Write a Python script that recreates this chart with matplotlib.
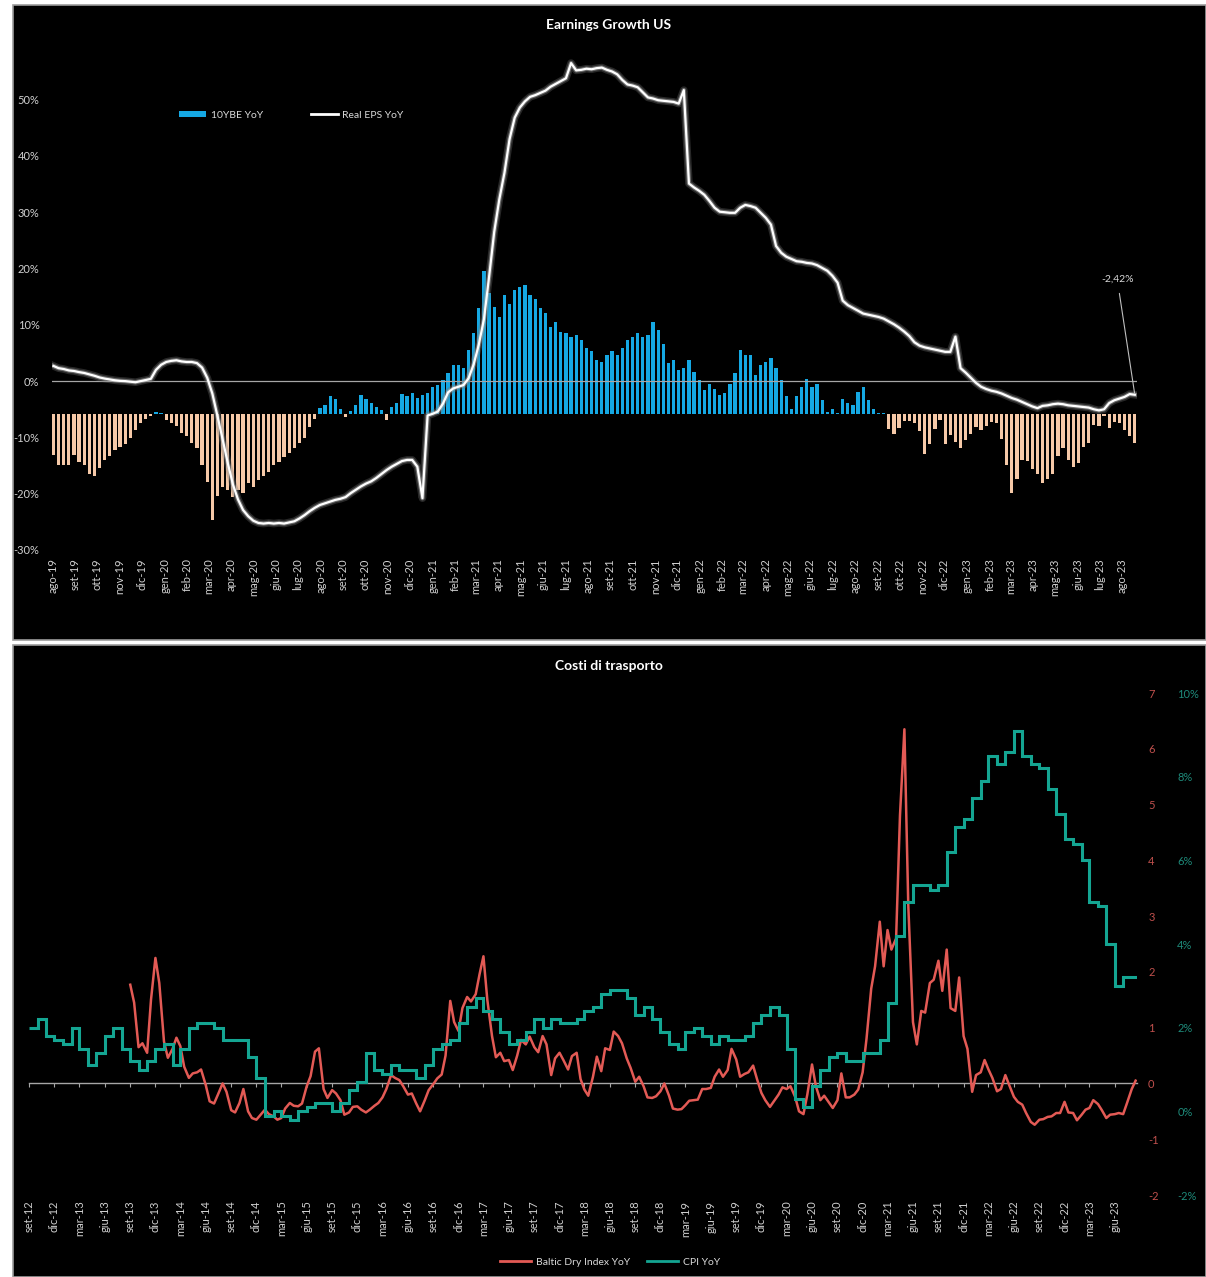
import matplotlib
matplotlib.use('Agg')
import matplotlib.pyplot as plt
import matplotlib.dates as mdates
import matplotlib.patheffects as pe
from matplotlib.patches import Rectangle, Patch
from matplotlib.lines import Line2D
import pandas as pd

plt.rcParams['font.family'] = ['Lato', 'DejaVu Sans']
plt.rcParams['axes.unicode_minus'] = False

MESI = ['gen', 'feb', 'mar', 'apr', 'mag', 'giu', 'lug', 'ago', 'set', 'ott', 'nov', 'dic']

# --- Earnings Growth US (weekly) ---
eps_start = '2019-08-02'
real_eps_yoy = [
    2.7, 2.3, 2.15, 1.9, 1.8, 1.6, 1.45, 1.2, 0.95, 0.65,
    0.45, 0.3, 0.15, 0.05, 0.0, -0.1, -0.2, 0.0, 0.2, 0.4,
    2.0, 2.9, 3.4, 3.6, 3.7, 3.5, 3.4, 3.4, 3.2, 2.4,
    0.6, -2.2, -6.2, -10.3, -14.5, -18.3, -21.0, -22.9, -24.0, -24.8,
    -25.2, -25.3, -25.2, -25.3, -25.2, -25.3, -25.1, -24.9, -24.4, -23.8,
    -23.1, -22.5, -22.0, -21.7, -21.4, -21.1, -20.9, -20.6, -19.9, -19.3,
    -18.7, -18.2, -17.8, -17.2, -16.5, -15.8, -15.2, -14.7, -14.2, -14.0,
    -14.0, -15.2, -20.8, -6.1, -5.8, -5.4, -4.0, -2.0, -1.3, -1.0,
    -0.7, 0.5, 3.0, 6.5, 11.0, 18.5, 26.5, 32.3, 37.0, 43.0,
    46.8, 48.6, 49.7, 50.5, 50.8, 51.2, 51.6, 52.3, 52.8, 53.3,
    53.8, 56.5, 55.2, 55.3, 55.5, 55.4, 55.6, 55.7, 55.3, 55.0,
    54.5, 53.5, 52.7, 52.5, 52.2, 51.3, 50.4, 50.2, 49.9, 49.8,
    49.7, 49.6, 49.3, 51.7, 35.1, 34.4, 33.8, 33.1, 32.0, 30.8,
    30.1, 30.0, 29.9, 29.9, 30.8, 31.3, 31.1, 30.8, 29.9, 29.0,
    27.8, 24.0, 22.8, 22.1, 21.7, 21.3, 21.2, 21.0, 20.9, 20.6,
    20.1, 19.6, 18.7, 17.5, 14.3, 13.5, 13.0, 12.5, 12.0, 11.8,
    11.6, 11.4, 11.1, 10.6, 10.1, 9.5, 8.8, 8.0, 6.9, 6.3,
    6.0, 5.8, 5.6, 5.4, 5.2, 5.2, 7.9, 2.3, 1.5, 0.6,
    -0.3, -1.0, -1.4, -1.7, -1.9, -2.2, -2.6, -3.0, -3.3, -3.7,
    -4.1, -4.5, -4.8, -4.4, -4.3, -4.1, -4.0, -4.1, -4.3, -4.4,
    -4.5, -4.6, -4.7, -5.0, -5.2, -5.0, -3.9, -3.4, -3.1, -2.8,
    -2.3, -2.42,
]
be10y_yoy = [
    -7.2, -9.0, -9.0, -9.0, -7.2, -8.5, -9.0, -10.5, -10.9, -9.5,
    -8.0, -7.3, -6.3, -5.8, -5.2, -4.2, -2.8, -1.6, -0.8, -0.2,
    0.5, 0.2, -0.9, -1.5, -2.1, -3.3, -3.9, -5.0, -5.9, -9.0,
    -12.0, -18.7, -14.5, -12.8, -13.5, -14.6, -13.4, -14.0, -12.2, -12.8,
    -11.6, -11.0, -10.2, -9.0, -8.4, -7.5, -6.9, -6.0, -5.1, -4.2,
    -2.2, -0.8, 1.2, 1.7, 3.3, 2.8, 1.0, -0.4, 0.6, 1.6,
    3.4, 2.8, 2.0, 1.3, 0.8, -1.0, 1.4, 2.0, 3.6, 3.3,
    3.8, 2.9, 3.5, 3.8, 4.9, 5.2, 6.1, 7.3, 8.8, 8.8,
    8.2, 11.4, 14.4, 19.0, 25.4, 21.5, 19.1, 17.4, 21.2, 19.7,
    22.1, 22.7, 23.0, 21.2, 20.6, 18.9, 18.0, 15.6, 16.5, 14.7,
    14.4, 13.8, 14.1, 13.2, 11.8, 11.2, 9.7, 9.4, 10.6, 11.2,
    10.6, 11.8, 13.2, 13.8, 14.4, 13.8, 14.1, 16.5, 15.0, 12.6,
    9.1, 9.7, 7.9, 8.2, 9.7, 7.6, 6.1, 4.4, 5.5, 4.6,
    3.5, 3.8, 5.5, 7.3, 11.4, 10.6, 10.6, 7.0, 8.8, 9.4,
    10.0, 8.2, 6.1, 3.2,
    1.0, 3.2, 4.8, 6.3, 4.9, 5.5, 2.5, 0.4, 1.0, 0.3,
    2.8, 2.1, 1.6, 4.0, 4.8, 2.5, 1.0, 0.3, 0.3, -2.5,
    -3.5, -2.4, -1.2, -1.1, -1.5, -3.0, -7.0, -5.2, -2.6, -1.0,
    -5.3, -3.6, -4.8, -6.0, -4.6, -3.4, -2.2, -2.8, -2.0, -1.3,
    -1.5, -4.4, -9.0, -14.0, -11.5, -8.1, -8.3, -9.6, -10.6, -12.2,
    -11.5, -10.5, -7.4, -6.0, -8.0, -9.3, -8.7, -5.8, -5.1, -1.8,
    -2.1, -0.3, -2.4, -1.4, -1.5, -2.7, -3.8, -5.0,
]

# --- Costi di trasporto ---
bdi_start = '2013-09-01'   # semi-monthly
bdi_yoy = [
    1.77, 1.45, 0.65, 0.72, 0.55, 1.5, 2.25, 1.8, 0.75, 0.46,
    0.62, 0.82, 0.67, 0.3, 0.1, 0.18, 0.2, 0.25, -0.03, -0.32,
    -0.36, -0.2, 0.0, -0.15, -0.48, -0.52, -0.35, -0.1, -0.5, -0.62,
    -0.65, -0.57, -0.47, -0.55, -0.59, -0.65, -0.62, -0.45, -0.35, -0.4,
    -0.41, -0.36, -0.05, 0.13, 0.57, 0.63, -0.1, -0.26, -0.12, -0.18,
    -0.3, -0.56, -0.52, -0.42, -0.41, -0.47, -0.52, -0.47, -0.4, -0.35,
    -0.25, -0.1, 0.15, 0.1, 0.06, -0.05, -0.2, -0.18, -0.36, -0.5,
    -0.3, -0.12, -0.01, 0.09, 0.16, 0.5, 1.48, 1.1, 0.94, 1.35,
    1.55, 1.47, 1.6, 1.96, 2.28, 1.5, 0.85, 0.47, 0.55, 0.4,
    0.42, 0.24, 0.5, 0.78, 0.7, 0.84, 0.65, 0.56, 0.85, 0.7,
    0.15, 0.45, 0.55, 0.42, 0.25, 0.49, 0.55, 0.08, -0.11, -0.22,
    0.12, 0.48, 0.22, 0.63, 0.6, 0.93, 0.85, 0.72, 0.45, 0.28,
    0.03, 0.12, -0.05, -0.25, -0.26, -0.23, -0.14, 0.0, -0.22, -0.45,
    -0.47, -0.46, -0.39, -0.31, -0.3, -0.29, -0.1, -0.1, -0.08, 0.12,
    0.25, 0.12, 0.24, 0.62, 0.43, 0.12, 0.17, 0.2, 0.32, 0.08,
    -0.17, -0.3, -0.42, -0.32, -0.2, -0.07, -0.1, -0.05, -0.24, -0.5,
    -0.55, -0.2, 0.34, -0.05, -0.3, -0.22, -0.34, -0.44, -0.3, 0.18,
    -0.25, -0.25, -0.2, -0.11, 0.2, 0.8, 1.7, 2.1, 2.9, 2.1,
    2.75, 2.4, 2.6, 4.8, 6.35, 3.2, 1.1, 0.7, 1.3, 1.27,
    1.8, 1.86, 2.2, 1.66, 2.4, 1.35, 1.3, 1.9, 0.85, 0.62,
    -0.15, 0.15, 0.2, 0.42, 0.25, 0.1, -0.14, -0.1, 0.15, -0.03,
    -0.24, -0.33, -0.38, -0.53, -0.69, -0.74, -0.65, -0.64, -0.6, -0.59,
    -0.53, -0.53, -0.33, -0.52, -0.53, -0.66, -0.56, -0.47, -0.44, -0.3,
    -0.37, -0.48, -0.62, -0.56, -0.55, -0.53, -0.55, -0.35, -0.1, 0.05,
]
cpi_start = '2012-09-01'   # monthly, %
cpi_end = '2023-08-20'
cpi_yoy = [
    2.0, 2.2, 1.8, 1.7,
    1.6, 2.0, 1.5, 1.1, 1.4, 1.8, 2.0, 1.5, 1.2, 1.0, 1.2, 1.5,
    1.6, 1.1, 1.5, 2.0, 2.1, 2.1, 2.0, 1.7, 1.7, 1.7, 1.3, 0.8,
    -0.1, 0.0, -0.1, -0.2, 0.0, 0.1, 0.2, 0.2, 0.0, 0.2, 0.5, 0.7,
    1.4, 1.0, 0.9, 1.1, 1.0, 1.0, 0.8, 1.1, 1.5, 1.6, 1.7, 2.1,
    2.5, 2.7, 2.4, 2.2, 1.9, 1.6, 1.7, 1.9, 2.2, 2.0, 2.2, 2.1,
    2.1, 2.2, 2.4, 2.5, 2.8, 2.9, 2.9, 2.7, 2.3, 2.5, 2.2, 1.9,
    1.6, 1.5, 1.9, 2.0, 1.8, 1.6, 1.8, 1.7, 1.7, 1.8, 2.1, 2.3,
    2.5, 2.3, 1.5, 0.3, 0.1, 0.6, 1.0, 1.3, 1.4, 1.2, 1.2, 1.4,
    1.4, 1.7, 2.6, 4.2, 5.0, 5.4, 5.4, 5.3, 5.4, 6.2, 6.8, 7.0,
    7.5, 7.9, 8.5, 8.3, 8.6, 9.1, 8.5, 8.3, 8.2, 7.7, 7.1, 6.5,
    6.4, 6.0, 5.0, 4.9, 4.0, 3.0, 3.2,
]

BLUE = '#15A8E3'
PEACH = '#F6C9A8'
RED = '#E35A55'
TEAL = '#14A592'
LBL = '#d0d0d0'

W, H = 1206, 1277
fig = plt.figure(figsize=(W / 100, H / 100), dpi=100, facecolor='white')

# pannelli neri
for y0, h in [(5, 635), (645, 632)]:
    fig.add_artist(Rectangle((13 / W, 1 - (y0 + h) / H), (W - 13) / W, h / H,
                             transform=fig.transFigure, facecolor='black',
                             edgecolor='#9c9c9c', lw=1.2, zorder=-1))


def it_label(d):
    return f'{MESI[d.month - 1]}-{d.strftime("%y")}'


# ---------------- grafico 1 ----------------
ax1 = fig.add_axes([52 / W, 1 - 550 / H, 1085 / W, 501 / H])
ax1b = ax1.twinx()
ax1.set_zorder(2)
ax1b.set_zorder(1)
for a in (ax1, ax1b):
    a.patch.set_visible(False)
    for s in a.spines.values():
        s.set_visible(False)

dates1 = pd.date_range(eps_start, periods=len(real_eps_yoy), freq='7D')
bar_cols = [BLUE if v >= 0 else PEACH for v in be10y_yoy]
ax1b.bar(dates1, be10y_yoy, width=4.4, color=bar_cols, linewidth=0)
ax1b.set_ylim(-24.07, 64.92)
ax1b.set_yticks([])

ax1.axhline(0, color='#a6a6a6', lw=0.9, zorder=1)
ax1.plot(dates1, real_eps_yoy, color='white', lw=1.6, zorder=3,
         path_effects=[pe.Stroke(linewidth=5.5, foreground='#707070', alpha=0.35),
                       pe.Stroke(linewidth=3.2, foreground='#b0b0b0', alpha=0.5),
                       pe.Normal()])
ax1.set_ylim(-30, 59)
yt = list(range(-30, 51, 10))
ax1.set_yticks(yt)
ax1.set_yticklabels([f'{t}%' for t in yt])
ax1.set_xlim(pd.Timestamp('2019-07-31'), pd.Timestamp('2023-08-21'))
months = pd.date_range('2019-08-01', '2023-08-01', freq='MS')
ax1.set_xticks(months)
ax1.set_xticklabels([it_label(d) for d in months], rotation=90)
ax1.tick_params(axis='both', length=0, colors=LBL, labelsize=8)
ax1.tick_params(axis='x', pad=6)
ax1.tick_params(axis='y', pad=9)

last = real_eps_yoy[-1]
ax1.annotate(f'{last:.2f}%'.replace('.', ','), xy=(dates1[-1], last),
             xytext=(pd.Timestamp('2023-07-25'), 18.1), ha='center', va='center',
             color='#d9d9d9', fontsize=7.5,
             arrowprops=dict(arrowstyle='-', color='#bfbfbf', lw=0.8, shrinkA=5, shrinkB=1))

h1 = [Patch(facecolor=BLUE), Line2D([], [], color='white', lw=2)]
ax1.legend(h1, ['10YBE YoY', 'Real EPS YoY'], loc='center left',
           bbox_to_anchor=(170 / W, 1 - 115 / H), bbox_transform=fig.transFigure,
           ncol=2, frameon=False, fontsize=7.5, labelcolor='#d9d9d9',
           handlelength=2.6, handleheight=0.6, handletextpad=0.4, columnspacing=4.6)

fig.text(609 / W, 1 - 25 / H, 'Earnings Growth US', ha='center', va='center',
         color='white', fontsize=10, fontweight='bold')

# ---------------- grafico 2 ----------------
ax2 = fig.add_axes([29.3 / W, 1 - 1195 / H, (1137 - 29.3) / W, 502 / H])
ax2t = ax2.twinx()
for a in (ax2, ax2t):
    a.patch.set_visible(False)
    for s in a.spines.values():
        s.set_visible(False)

bdi_dates = pd.date_range(bdi_start, periods=len(bdi_yoy), freq='SMS')
ax2.plot(bdi_dates, bdi_yoy, color=RED, lw=1.8)
ax2.set_ylim(-2, 7)
ax2.yaxis.tick_right()
ax2.set_yticks(range(-2, 8))
ax2.tick_params(axis='y', colors='#C0504D', length=0, pad=8, labelsize=8)

x0 = pd.Timestamp('2012-09-01')
ax2.set_xlim(x0, x0 + pd.Timedelta(days=4005))
quarters = pd.date_range('2012-09-01', '2023-06-01', freq='3MS')
ax2.set_xticks(quarters)
ax2.set_xticklabels([it_label(d) for d in quarters], rotation=90)
ax2.tick_params(axis='x', length=0, colors=LBL, labelsize=8, pad=4)

zero_ax = ax2.secondary_xaxis(2 / 9)
zero_ax.set_xticks(mdates.date2num(quarters))
zero_ax.tick_params(labelbottom=False, labeltop=False, length=3, width=0.8, color='#a6a6a6')
for s in zero_ax.spines.values():
    s.set_color('#a6a6a6')
    s.set_linewidth(1.0)

cpi_edges = list(pd.date_range(cpi_start, periods=len(cpi_yoy), freq='MS')) + [pd.Timestamp(cpi_end)]
ax2t.stairs(cpi_yoy, mdates.date2num(cpi_edges), color=TEAL, lw=2.2, baseline=None)
ax2t.set_ylim(-2, 10)
ct = list(range(-2, 11, 2))
ax2t.set_yticks(ct)
ax2t.set_yticklabels([f'{t}%' for t in ct])
ax2t.tick_params(axis='y', colors='#1E8A7A', length=0, pad=29, labelsize=8)

h2 = [Line2D([], [], color=RED, lw=2), Line2D([], [], color=TEAL, lw=2)]
ax2.legend(h2, ['Baltic Dry Index YoY', 'CPI YoY'], loc='center',
           bbox_to_anchor=(610 / W, 1 - 1262 / H), bbox_transform=fig.transFigure,
           ncol=2, frameon=False, fontsize=7.5, labelcolor='#d9d9d9',
           handlelength=3.0, handletextpad=0.5, columnspacing=1.6)

fig.text(609 / W, 1 - 666 / H, 'Costi di trasporto', ha='center', va='center',
         color='white', fontsize=10, fontweight='bold')

fig.savefig('out.png', dpi=100, facecolor='white')
